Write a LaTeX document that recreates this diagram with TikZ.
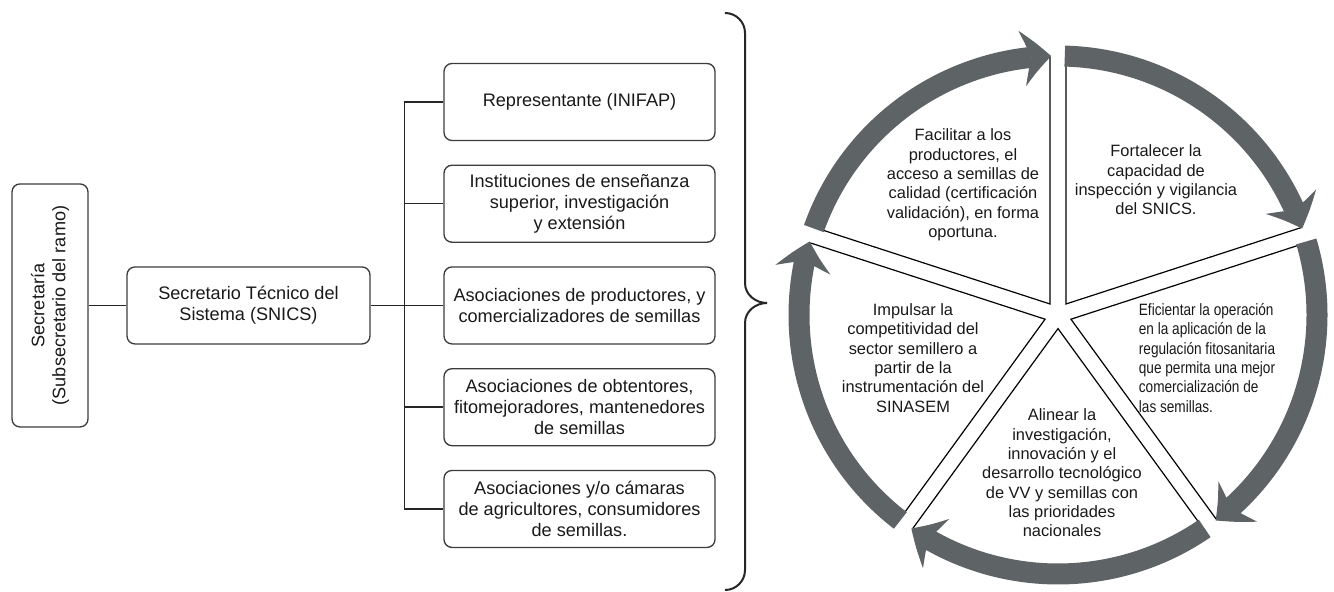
\documentclass[tikz,border=0pt]{standalone}
\usepackage{fontspec}
\setmainfont{Liberation Sans}
\newfontfamily\narrowfont[FakeStretch=0.83]{Liberation Sans}
\usepackage{tikz}
\usetikzlibrary{arrows.meta,bending,positioning,calc}
\definecolor{ringgray}{RGB}{94,99,102}
\definecolor{boxline}{RGB}{60,60,60}

\begin{document}
\begin{tikzpicture}[x=0.75pt,y=0.75pt,node distance=76.3pt,
            main node/.style={rectangle,rounded corners=6pt,draw=boxline,line width=1pt,
            align=center,font=\fontsize{13.6}{15.8}\selectfont,text=black!90,inner sep=2pt},
            side node/.style={main node,minimum width=203.25pt,minimum height=57.75pt},
            goal node/.style={align=center,font=\fontsize{12.3}{14.5}\selectfont,text=black!90,inner sep=0pt},
            connector/.style={draw=black!85,line width=1.1pt},
            wedge line/.style={draw=black,line width=0.9pt},
            ring arrow/.style={draw=ringgray,line width=15.75pt,
            -{Stealth[length=22pt,width=42pt,inset=7pt,line width=0pt,bend]}}]

            \useasboundingbox (0,0) rectangle (1334,592);

            \node[side node] (Representante) at (579.5,490) {Representante (INIFAP)};
            \node[side node] (Instituciones) [below of=Representante] {Instituciones de enseñanza\\superior, investigación\\y extensión};
            \node[side node] (AsocProductores) [below of=Instituciones] {Asociaciones de productores, y\\comercializadores de semillas};
            \node[side node] (AsocObtentores) [below of=AsocProductores] {Asociaciones de obtentores,\\fitomejoradores, mantenedores\\de semillas};
            \node[side node] (AsocCamaras) [below of=AsocObtentores] {Asociaciones y/o cámaras\\de agricultores, consumidores\\de semillas.};

            \node[main node,minimum width=182.25pt,minimum height=57.75pt] (SecretarioTecnico) [left of=AsocProductores,node distance=248.25pt] {Secretario Técnico del\\Sistema (SNICS)};
            \node[main node,rotate=90,minimum width=182.25pt,minimum height=57pt] (Secretaria) at ($(SecretarioTecnico)+(-198.5,0)$) {Secretaría\\(Subsecretario del ramo)};

            \coordinate (Trunk) at ($(Representante.west)+(-39,0)$);

            \draw [connector] (Secretaria) -- (SecretarioTecnico);
            \draw [connector] (SecretarioTecnico) -- (SecretarioTecnico -| Trunk);
            \draw [connector] (Representante.west) -- (Trunk) |- (AsocCamaras.west);
            \foreach \n in {Instituciones,AsocProductores,AsocObtentores}
                \draw [connector] (\n.west) -- (\n.west -| Trunk);

            % brace
            \draw [draw=black!85,line width=1.5pt] (725,579) to[out=0,in=90] (745,559) -- (745,309)
                to[out=-90,in=180] (767,289) to[out=180,in=90] (745,269) -- (745,22) to[out=-90,in=0] (725,2);

            % cycle
            \coordinate (C) at (1058,277);
            \foreach \a in {162,90,18,-54,-126} {
                \pgfmathsetmacro\b{\a-72}
                \pgfmathsetmacro\m{\a-36}
                \draw [wedge line] ($(C)+(\a:258)+(\a-90:8)$) -- ($(C)+(\m:13.6)$) -- ($(C)+(\b:258)+(\b+90:8)$);
            }
            \foreach \a in {162,90,18,-54,-126}
                \draw [ring arrow] (C) ++(\a-1.5:259) arc[start angle=\a-1.5,end angle=\a-70.5,radius=259];

            \node[goal node] (Facilitar) at (963,407) {Facilitar a los\\productores, el\\acceso a semillas de\\calidad (certificación\\validación), en forma\\oportuna.};
            \node[goal node] (Fortalecer) at (1156,412) {Fortalecer la\\capacidad de\\inspección y vigilancia\\del SNICS.};
            \node[goal node,align=left,font=\narrowfont\fontsize{12.3}{14.5}\selectfont] (Eficientar) at (1207,234) {Eficientar la operación\\en la aplicación de la\\regulación fitosanitaria\\que permita una mejor\\comercialización de\\las semillas.};
            \node[goal node] (Alinear) at (1062,119) {Alinear la\\investigación,\\innovación y el\\desarrollo tecnológico\\de VV y semillas con\\las prioridades\\nacionales};
            \node[goal node] (Impulsar) at (913,234) {Impulsar la\\competitividad del\\sector semillero a\\partir de la\\instrumentación del\\SINASEM};
          \end{tikzpicture}
\end{document}
